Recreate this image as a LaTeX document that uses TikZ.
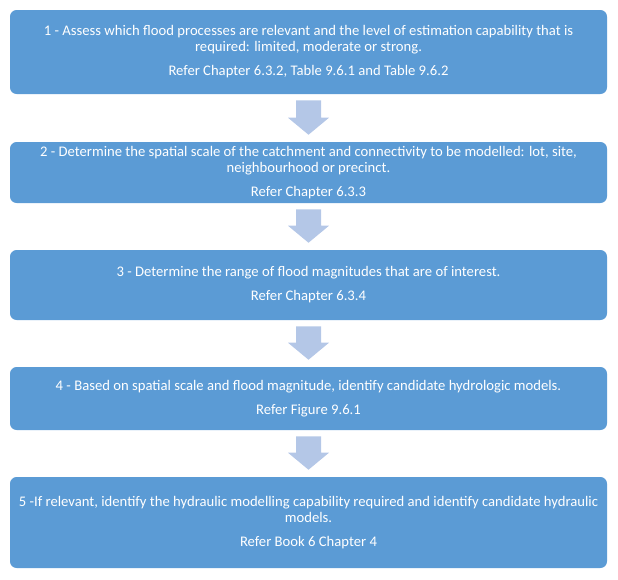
\documentclass[tikz,border=0pt]{standalone}
\usepackage{fontspec}
\setmainfont{Carlito}
\usepackage{xcolor}
\usetikzlibrary{positioning,calc}

\definecolor{stepblue}{HTML}{5B9BD5}
\definecolor{arrowblue}{HTML}{B4C7E7}

\newcommand{\flowarrow}[2]{%
  \fill[arrowblue] ($(#1.south)+(-12.5,6)$) -- ($(#1.south)+(12.5,6)$)
    -- ($(#2.north)+(12.5,-24)$) -- ($(#2.north)+(20.5,-24)$)
    -- ($(#2.north)+(0,-7)$) -- ($(#2.north)+(-20.5,-24)$)
    -- ($(#2.north)+(-12.5,-24)$) -- cycle;}

\begin{document}
\begin{tikzpicture}[
    x={(0.75pt,0)}, y={(0,-0.75pt)},
    stepbox/.style={rectangle, rounded corners=5pt, fill=stepblue, text=white,
        minimum width=447.75pt, align=center, inner sep=0pt,
        font=\fontsize{11}{11.8}\selectfont}
]

\useasboundingbox (0,0) rectangle (618,579);

\node[stepbox, minimum height=63pt] (assess) at (308.5,52)
    {1 - Assess which flood processes are relevant and the level of estimation capability that is\\
     required: limited, moderate or strong.\\[6.3pt]
     Refer Chapter 6.3.2, Table 9.6.1 and Table 9.6.2};
\node[stepbox, minimum height=45.75pt] (scale) at (308.5,172.5)
    {2 - Determine the spatial scale of the catchment and connectivity to be modelled: lot, site,\\
     neighbourhood or precinct.\\[6.3pt]
     Refer Chapter 6.3.3};
\node[stepbox, minimum height=52.5pt] (range) at (308.5,285)
    {3 - Determine the range of flood magnitudes that are of interest.\\[6.3pt]
     Refer Chapter 6.3.4};
\node[stepbox, minimum height=47.25pt] (hydrologic) at (308.5,398.5)
    {4 - Based on spatial scale and flood magnitude, identify candidate hydrologic models.\\[6.3pt]
     Refer Figure 9.6.1};
\node[stepbox, minimum height=68.25pt] (hydraulic) at (308.5,522.5)
    {5 -If relevant, identify the hydraulic modelling capability required and identify candidate hydraulic\\
     models.\\[6.3pt]
     Refer Book 6 Chapter 4};

\flowarrow{assess}{scale}
\flowarrow{scale}{range}
\flowarrow{range}{hydrologic}
\flowarrow{hydrologic}{hydraulic}

\end{tikzpicture}
\end{document}
